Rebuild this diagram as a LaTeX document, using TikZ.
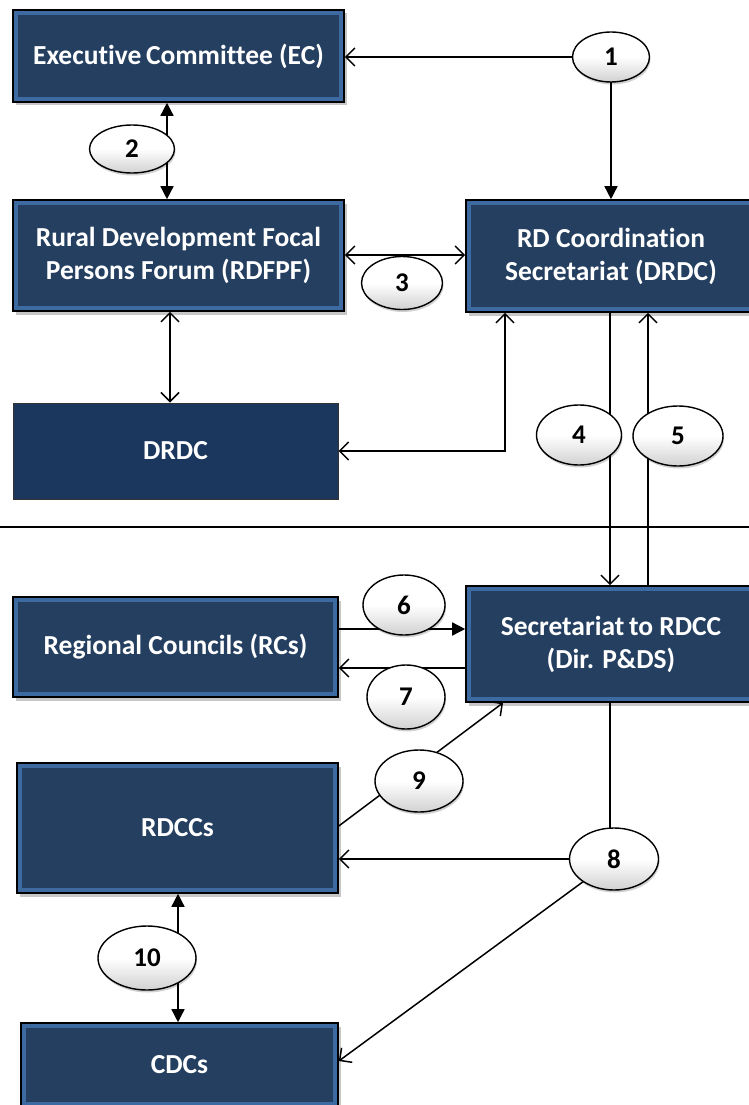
\documentclass[tikz,border=0pt]{standalone}
\usepackage{fontspec}
\newfontfamily\calfont[Ligatures=NoCommon]{Carlito}
\usetikzlibrary{arrows.meta,shapes.geometric,shadows,calc}

\definecolor{bevel}{HTML}{3E6AA2}
\definecolor{boxin}{HTML}{243F60}
\definecolor{flatbox}{HTML}{1B375E}

\pgfdeclarelayer{paper}
\pgfdeclarelayer{lines}
\pgfsetlayers{paper,lines,main}

\tikzset{
  boxtext/.style={font=\calfont\bfseries\fontsize{27.5}{33}\selectfont, text=white, align=center},
  bevelbox/.style={rectangle, draw=black, line width=1.6pt, fill=bevel, inner sep=0pt, boxtext,
    drop shadow={shadow xshift=2.5pt, shadow yshift=-3.5pt, opacity=0.22, fill=black},
    path picture={\fill[boxin] ([shift={(5pt,5pt)}]path picture bounding box.south west)
      rectangle ([shift={(-5pt,-5pt)}]path picture bounding box.north east);}},
  flatbox/.style={rectangle, draw=black!80, line width=1pt, fill=flatbox, inner sep=0pt, boxtext},
  tag/.style={ellipse, draw=black, line width=1.4pt, inner sep=0pt,
    top color=white, bottom color=black!18, middle color=white,
    font=\calfont\bfseries\fontsize{27}{27}\selectfont,
    drop shadow={shadow xshift=1pt, shadow yshift=-2.5pt, opacity=0.18, fill=black}},
  link/.style={line width=1.5pt, draw=black},
  oarrow/.style={link, -{Straight Barb[length=9pt,width=18pt,line width=1.5pt]}},
  oboth/.style={link, {Straight Barb[length=9pt,width=18pt,line width=1.5pt]}-{Straight Barb[length=9pt,width=18pt,line width=1.5pt]}},
  farrow/.style={link, -{Triangle[length=13pt,width=13pt]}},
  fboth/.style={link, {Triangle[length=13pt,width=13pt]}-{Triangle[length=13pt,width=13pt]}},
}

\begin{document}
\begin{tikzpicture}[x=1pt,y=-1pt]
\useasboundingbox (0,0) rectangle (749,1105);
\begin{pgfonlayer}{paper}
  \fill[white] (0,0) rectangle (749,1105);
\end{pgfonlayer}
\clip (0,0) rectangle (749,1105);

% ---- organisation boxes
\node[bevelbox, minimum width=331pt, minimum height=92pt] (EC) at (178.5,56) {Executive\,Committee (EC)};
\node[bevelbox, minimum width=331pt, minimum height=111pt] (RDFPF) at (178.5,255.5) {Rural Development Focal\\Persons Forum (RDFPF)};
\node[flatbox, minimum width=325pt, minimum height=96pt] (DRDC) at (175.5,451) {DRDC};
\node[bevelbox, minimum width=290pt, minimum height=112pt] (RDCS) at (611,256) {RD Coordination\\Secretariat (DRDC)};
\node[bevelbox, minimum width=290pt, minimum height=116pt] (SEC) at (611,644) {Secretariat\,to RDCC\\(Dir. P\&DS)};
\node[bevelbox, minimum width=325pt, minimum height=100pt] (RCs) at (175.5,647) {Regional Councils (RCs)};
\node[bevelbox, minimum width=321pt, minimum height=130pt] (RDCCs) at (177.5,828) {RDCCs};
\node[bevelbox, minimum width=317pt, minimum height=84pt] (CDCs) at (179.5,1065) {CDCs};

% ---- numbered flow tags
\node[tag, minimum width=77pt, minimum height=50pt] (e1) at (611,57) {1};
\node[tag, minimum width=85pt, minimum height=48pt] (e2) at (132,149) {2};
\node[tag, minimum width=81pt, minimum height=53pt] (e3) at (402,283) {3};
\node[tag, minimum width=85pt, minimum height=60pt] (e4) at (579,435) {4};
\node[tag, minimum width=90pt, minimum height=60pt] (e5) at (678,436) {5};
\node[tag, minimum width=82pt, minimum height=60pt] (e6) at (404,605) {6};
\node[tag, minimum width=78pt, minimum height=64pt] (e7) at (406,697) {7};
\node[tag, minimum width=88pt, minimum height=62pt] (e9) at (419,781) {9};
\node[tag, minimum width=89pt, minimum height=62pt] (e8) at (614,859) {8};
\node[tag, minimum width=98pt, minimum height=64pt] (e10) at (147,958) {10};

% ---- guide coordinates for the connector routes
\coordinate (x2) at (167,0);
\coordinate (y3) at (0,255);
\coordinate (x5) at (170,0);
\coordinate (x6) at (505,0);
\coordinate (x4) at (610,0);
\coordinate (x7) at (648,0);
\coordinate (y6) at (0,629);
\coordinate (y7) at (0,668);
\coordinate (y9) at (0,826);
\coordinate (x9) at (503,0);
\coordinate (y10) at (0,1061);
\coordinate (x10) at (178,0);
\coordinate (sepL) at (0,527);
\coordinate (sepR) at (749,527);

% ---- connectors
\begin{pgfonlayer}{lines}
  \draw[oarrow] (e1.center) -- (e1.center -| EC.east);
  \draw[farrow] (e1.center) -- (e1.center |- RDCS.north);
  \draw[fboth] (EC.south -| x2) -- (RDFPF.north -| x2);
  \draw[oboth] (RDFPF.east |- y3) -- (RDCS.west |- y3);
  \draw[oboth] (RDFPF.south -| x5) -- (DRDC.north -| x5);
  \draw[oboth] (DRDC.east) -- (DRDC.east -| x6) -- (RDCS.south -| x6);
  \draw[oarrow] (RDCS.south -| x4) -- (SEC.north -| x4);
  \draw[oarrow] (SEC.north -| x7) -- (RDCS.south -| x7);
  \draw[link] (sepL) -- (sepR);
  \draw[farrow] (RCs.east |- y6) -- (SEC.west |- y6);
  \draw[oarrow] (SEC.west |- y7) -- (RCs.east |- y7);
  \draw[oarrow] (RDCCs.east |- y9) -- (SEC.south -| x9);
  \draw[link] (SEC.south -| x4) -- (e8.center -| x4);
  \draw[oarrow] (e8.center) -- (e8.center -| RDCCs.east);
  \draw[oarrow] (e8.center) -- (CDCs.east |- y10);
  \draw[fboth] (RDCCs.south -| x10) -- (CDCs.north -| x10);
\end{pgfonlayer}
\end{tikzpicture}
\end{document}
